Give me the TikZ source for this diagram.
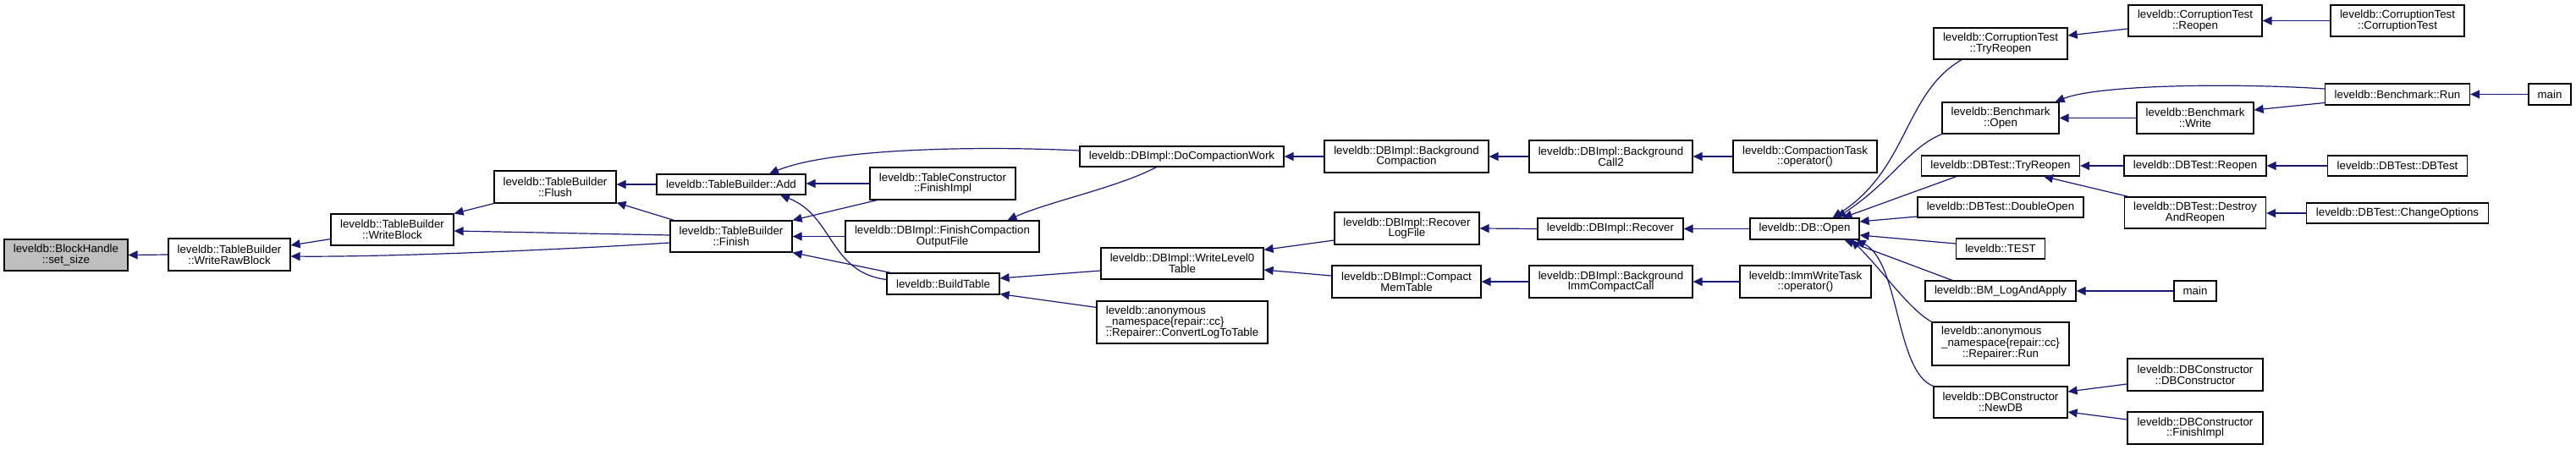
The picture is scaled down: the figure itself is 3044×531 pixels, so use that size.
\documentclass[tikz,border=0pt]{standalone}
\usepackage{fontspec}
\setmainfont{Liberation Sans}
\usetikzlibrary{arrows.meta,calc}
\definecolor{edgeblue}{HTML}{191970}
\definecolor{hl}{HTML}{BFBFBF}
\begin{document}
\begin{tikzpicture}[x=1pt,y=-1pt,
  box/.style={draw=black,line width=1.2pt,fill=white,rectangle,inner sep=0pt,align=center,
    font=\fontsize{13.3pt}{12.7pt}\selectfont},
  call/.style={draw=edgeblue,line width=1.2pt,-{Triangle[length=11pt,width=10pt]},fill=none}]
\useasboundingbox (0,0) rectangle (3044,531);
% nodes
\node[box,fill=hl,minimum width=146pt,minimum height=37pt] (bh) at (78,301.5) {leveldb::BlockHandle\\::set\_size};
\node[box,minimum width=144pt,minimum height=38pt] (wrb) at (271,301) {leveldb::TableBuilder\\::WriteRawBlock};
\node[box,minimum width=145pt,minimum height=37pt] (wb) at (463.5,271.5) {leveldb::TableBuilder\\::WriteBlock};
\node[box,minimum width=144pt,minimum height=38pt] (fl) at (656,221) {leveldb::TableBuilder\\::Flush};
\node[box,minimum width=176pt,minimum height=24pt] (add) at (864,218) {leveldb::TableBuilder::Add};
\node[box,minimum width=144pt,minimum height=37pt] (fin) at (864,279.5) {leveldb::TableBuilder\\::Finish};
\node[box,minimum width=172pt,minimum height=38pt] (tcfi) at (1114,217) {leveldb::TableConstructor\\::FinishImpl};
\node[box,minimum width=229pt,minimum height=37pt] (fcof) at (1113.5,279.5) {leveldb::DBImpl::FinishCompaction\\OutputFile};
\node[box,minimum width=133pt,minimum height=25pt] (bt) at (1114.5,335.5) {leveldb::BuildTable};
\node[box,minimum width=241pt,minimum height=24pt] (dcw) at (1396.5,185) {leveldb::DBImpl::DoCompactionWork};
\node[box,minimum width=192pt,minimum height=37pt] (wl0) at (1397,311.5) {leveldb::DBImpl::WriteLevel0\\Table};
\node[box,minimum width=202pt,minimum height=50pt,align=left] (cltt) at (1397,381) {leveldb::anonymous\\\_namespace\{repair::cc\}\\::Repairer::ConvertLogToTable};
\node[box,minimum width=194pt,minimum height=38pt] (bgc) at (1662,185) {leveldb::DBImpl::Background\\Compaction};
\node[box,minimum width=171pt,minimum height=38pt] (rlf) at (1662.5,270) {leveldb::DBImpl::Recover\\LogFile};
\node[box,minimum width=176pt,minimum height=38pt] (cmt) at (1662,333) {leveldb::DBImpl::Compact\\MemTable};
\node[box,minimum width=193pt,minimum height=38pt] (bgc2) at (1903.5,185) {leveldb::DBImpl::Background\\Call2};
\node[box,minimum width=172pt,minimum height=25pt] (rec) at (1903,270.5) {leveldb::DBImpl::Recover};
\node[box,minimum width=193pt,minimum height=38pt] (bicc) at (1903.5,333) {leveldb::DBImpl::Background\\ImmCompactCall};
\node[box,minimum width=170pt,minimum height=38pt] (ctop) at (2133,185) {leveldb::CompactionTask\\::operator()};
\node[box,minimum width=129pt,minimum height=25pt] (open) at (2132.5,270.5) {leveldb::DB::Open};
\node[box,minimum width=155pt,minimum height=38pt] (iwt) at (2133.5,333) {leveldb::ImmWriteTask\\::operator()};
\node[box,minimum width=158pt,minimum height=37pt] (cttr) at (2364,51.5) {leveldb::CorruptionTest\\::TryReopen};
\node[box,minimum width=138pt,minimum height=37pt] (bo) at (2364,139.5) {leveldb::Benchmark\\::Open};
\node[box,minimum width=187pt,minimum height=24pt] (dtr) at (2364,196) {leveldb::DBTest::TryReopen};
\node[box,minimum width=196pt,minimum height=24pt] (dbl) at (2364,245) {leveldb::DBTest::DoubleOpen};
\node[box,minimum width=105pt,minimum height=24pt] (test) at (2364,294) {leveldb::TEST};
\node[box,minimum width=178pt,minimum height=24pt] (bml) at (2364,344) {leveldb::BM\_LogAndApply};
\node[box,minimum width=162pt,minimum height=51pt] (rrun) at (2364,406.5) {\begin{tabular}{@{}l@{}}leveldb::anonymous\\\_namespace\{repair::cc\}\\\multicolumn{1}{@{}c@{}}{::Repairer::Run}\end{tabular}};
\node[box,minimum width=158pt,minimum height=37pt] (newdb) at (2364,475.5) {leveldb::DBConstructor\\::NewDB};
\node[box,minimum width=158pt,minimum height=37pt] (ctr) at (2594,24.5) {leveldb::CorruptionTest\\::Reopen};
\node[box,minimum width=138pt,minimum height=37pt] (bw) at (2594,139.5) {leveldb::Benchmark\\::Write};
\node[box,minimum width=168pt,minimum height=24pt] (dr) at (2594,196) {leveldb::DBTest::Reopen};
\node[box,minimum width=167pt,minimum height=37pt] (dar) at (2594,251.5) {leveldb::DBTest::Destroy\\AndReopen};
\node[box,minimum width=50pt,minimum height=24pt] (main2) at (2594,344) {main};
\node[box,minimum width=160pt,minimum height=38pt] (dbc) at (2594,443) {leveldb::DBConstructor\\::DBConstructor};
\node[box,minimum width=160pt,minimum height=38pt] (dbfi) at (2594,506) {leveldb::DBConstructor\\::FinishImpl};
\node[box,minimum width=158pt,minimum height=37pt] (ctc) at (2833,24.5) {leveldb::CorruptionTest\\::CorruptionTest};
\node[box,minimum width=171pt,minimum height=25pt] (brun) at (2833,111.5) {leveldb::Benchmark::Run};
\node[box,minimum width=165pt,minimum height=24pt] (ddt) at (2833,196) {leveldb::DBTest::DBTest};
\node[box,minimum width=215pt,minimum height=24pt] (dco) at (2833,252) {leveldb::DBTest::ChangeOptions};
\node[box,minimum width=50pt,minimum height=25pt] (main1) at (3013,111.5) {main};
% edges
\draw[call] (wrb.west) -- (bh.east);
\draw[call] ($(wb.south west)+(0,-8)$) -- ($(wrb.east)+(0,-11)$);
\draw[call] ($(fin.west)+(0,7.5)$) .. controls (650,296) and (450,304) .. ($(wrb.east)+(0,2)$);
\draw[call] ($(fin.west)+(0,-1.5)$) -- ($(wb.east)+(0,1.5)$);
\draw[call] ($(fin.north west)+(5,0)$) -- ($(fl.south east)+(0,-1)$);
\draw[call] (fl.south west) -- (wb.north east);
\draw[call] (add.west) -- (add.west -| fl.east);
\draw[call] (tcfi.west) -- (tcfi.west -| add.east);
\draw[call] ($(tcfi.south west)+(9,0)$) -- (fin.north east);
\draw[call] (fcof.west) -- (fin.east);
\draw[call] ($(bt.north west)+(5,0)$) -- (fin.south east);
\draw[call] ($(bt.west)+(0,-5)$) .. controls (980,322) and (985,255) .. ($(add.south)+(58,0)$);
\draw[call] ($(dcw.west)+(0,-7)$) .. controls (1150,172) and (980,176) .. ($(add.north)+(45,0)$);
\draw[call] ($(dcw.south)+(-30,0)$) .. controls (1320,222) and (1240,238) .. ($(fcof.north)+(77,0)$);
\draw[call] ($(wl0.west)+(0,8.5)$) -- ($(bt.east)+(0,-6.5)$);
\draw[call] ($(cltt.north west)+(0,8)$) -- ($(bt.south east)+(0,-1)$);
\draw[call] (bgc.west) -- (dcw.east);
\draw[call] (bgc2.west) -- (bgc.east);
\draw[call] (ctop.west) -- (bgc2.east);
\draw[call] ($(rlf.west)+(0,14)$) -- ($(wl0.north east)+(0,3)$);
\draw[call] ($(cmt.west)+(0,-7)$) -- ($(wl0.east)+(0,7.5)$);
\draw[call] (rec.west) -- (rlf.east);
\draw[call] (open.west) -- (rec.east);
\draw[call] (bicc.west) -- (cmt.east);
\draw[call] (iwt.west) -- (bicc.east);
\draw[call] ($(cttr.south)+(-46,0)$) .. controls (2250,110) and (2255,200) .. ($(open.north)+(33,0)$);
\draw[call] (bo.south west) .. controls (2255,175) and (2235,215) .. ($(open.north)+(38,0)$);
\draw[call] ($(dtr.south)+(-52,0)$) -- ($(open.north)+(45,0)$);
\draw[call] ($(dbl.west)+(0,11)$) -- ($(open.east)+(0,-8.5)$);
\draw[call] ($(test.west)+(0,-6)$) -- ($(open.east)+(0,7.5)$);
\draw[call] ($(bml.north)+(-57,0)$) -- ($(open.south)+(47,0)$);
\draw[call] (rrun.north west) .. controls (2255,365) and (2225,320) .. ($(open.south)+(55,0)$);
\draw[call] (newdb.north west) .. controls (2240,440) and (2245,310) .. ($(open.south east)+(-4,0)$);
\draw[call] ($(ctr.west)+(0,9.5)$) -- ($(cttr.east)+(0,-9.5)$);
\draw[call] (ctc.west) -- (ctr.east);
\draw[call] ($(brun.west)+(0,-6.5)$) .. controls (2640,98) and (2480,100) .. ($(bo.north east)+(-5,0)$);
\draw[call] ($(brun.west)+(0,10)$) -- ($(bw.east)+(0,-9.5)$);
\draw[call] (bw.west) -- (bo.east);
\draw[call] (main1.west) -- (brun.east);
\draw[call] (dr.west) -- (dtr.east);
\draw[call] (ddt.west) -- (dr.east);
\draw[call] ($(dar.north west)+(5,0)$) -- ($(dtr.south)+(51,0)$);
\draw[call] (dco.west) -- (dco.west -| dar.east);
\draw[call] (main2.west) -- (bml.east);
\draw[call] ($(dbc.west)+(0,11)$) -- ($(newdb.east)+(0,-12.5)$);
\draw[call] ($(dbfi.west)+(0,-10)$) -- ($(newdb.east)+(0,11.5)$);
\end{tikzpicture}
\end{document}
